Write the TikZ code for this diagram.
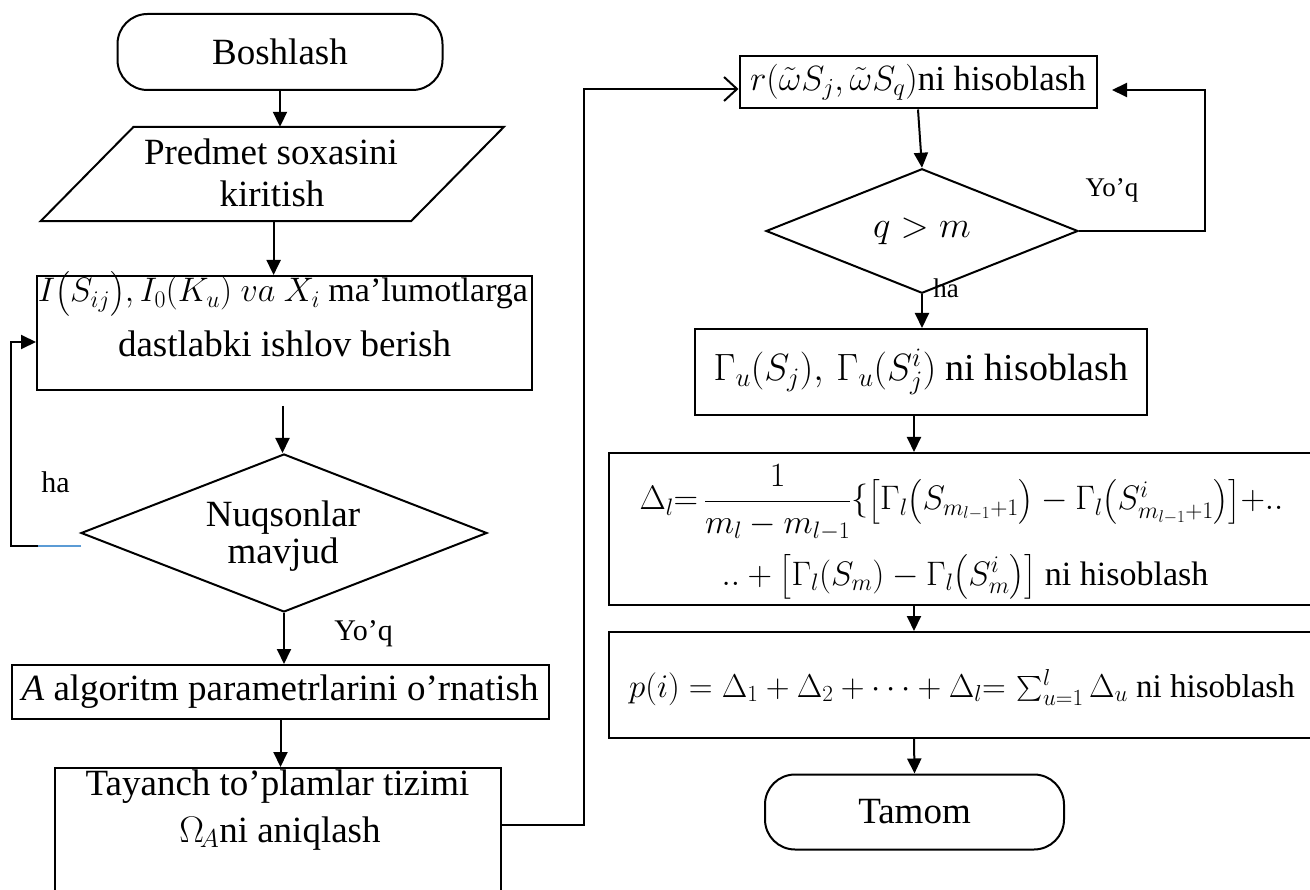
\RequirePackage{fix-cm}
\documentclass[tikz,border=0pt]{standalone}
\usepackage{amsmath}
\usepackage{fontspec}
\setmainfont{Liberation Serif}
\usetikzlibrary{shapes.geometric,arrows.meta,calc}
\definecolor{wordblue}{RGB}{91,155,213}
\tikzset{
  base/.style={draw, line width=2pt, inner sep=0pt, font=\fontsize{37}{44}\selectfont},
  term/.style={base, rectangle, rounded corners=30pt},
  procbox/.style={base, rectangle},
  txt/.style={inner sep=0pt, anchor=base, font=\fontsize{37}{44}\selectfont},
  fs/.style={font=\fontsize{#1}{44}\selectfont},
  lbl/.style={inner sep=0pt, anchor=base, font=\fontsize{30}{36}\selectfont},
  lbls/.style={inner sep=0pt, anchor=base, font=\fontsize{27}{32}\selectfont},
  arr/.style={line width=2pt, -{Triangle[length=15pt,width=14pt]}},
  openarr/.style={line width=2pt, -{Straight Barb[length=13pt,width=24pt]}},
  link/.style={line width=2pt},
}
\begin{document}
\begin{tikzpicture}[x=1pt,y=-1pt]
\useasboundingbox (0,0) rectangle (1310,890);
\clip (0,0) rectangle (1310,890);

% ---------- left column ----------
\node[term, minimum width=325pt, minimum height=76pt] (start) at (280,52) {Boshlash};

\node[inner sep=0pt, minimum width=463pt, minimum height=94pt] (inp) at (272.3,174) {};
\draw[link] (inp.south west) -- ($(inp.north west)+(93,0)$) -- (inp.north east)
  -- ($(inp.south east)+(-93,0)$) -- cycle;
\node[txt] (inpA) at (271,165) {Predmet soxasini};
\node[txt] (inpB) at (272,207) {kiritish};

\node[procbox, minimum width=495pt, minimum height=114pt] (box1) at (284.5,333) {};
\node[txt, fs=34] (b1A) at (283,302) {$I\bigl(S_{ij}\bigr), I_0(K_u)\ va\ X_i$ ma’lumotlarga};
\node[txt] (b1B) at (284.5,357) {dastlabki ishlov berish};

\node[base, diamond, minimum width=406pt, minimum height=158pt] (dec1) at (284,533) {};
\node[txt] (d1A) at (283,526) {Nuqsonlar};
\node[txt] (d1B) at (283,563) {mavjud};

\node[procbox, minimum width=537pt, minimum height=54pt] (boxA) at (280,692) {\textit{A} algoritm parametrlarini o’rnatish};

\node[procbox, minimum width=446.6pt, minimum height=140pt] (taya) at (278,838) {};
\node[txt] (tyA) at (277.5,795) {Tayanch to’plamlar tizimi};
\node[txt] (tyB) at (280,842) {$\Omega_{\!A}$ni aniqlash};

% labels left
\node[lbl] (haL) at (55.5,493) {ha};
\node[lbl] (yoqL) at (363.6,640) {Yo’q};

% ---------- right column ----------
\node[procbox, minimum width=357pt, minimum height=52pt, fs=35] (rbox) at (918,82.5) {$r(\tilde{\omega} S_j, \tilde{\omega} S_q)$ni hisoblash};

\node[base, diamond, minimum width=312pt, minimum height=86pt] (dec2) at (922,231) {$q > m$};

\node[procbox, minimum width=452pt, minimum height=86pt, fs=38] (gbox) at (921,372) {$\Gamma_u(S_j),\, \Gamma_u(S^i_j)$ ni hisoblash};

\node[procbox, minimum width=721pt, minimum height=152pt] (dbox) at (969.5,529) {};
\node[txt, fs=34] (dA) at (961.5,510) {$\Delta_l {=}\, \dfrac{1}{m_l - m_{l-1}}\{\bigl[\Gamma_l\bigl(S_{m_{l-1}+1}\bigr) - \Gamma_l\bigl(S^i_{m_{l-1}+1}\bigr)\bigr]{+}..$};
\node[txt, fs=34] (dB) at (965,585) {$..+\bigl[\Gamma_l(S_m) - \Gamma_l\bigl(S^i_m\bigr)\bigr]$ ni hisoblash};

\node[procbox, minimum width=721pt, minimum height=106pt] (pbox) at (969.5,685) {};
\node[txt, fs=33] (pA) at (962,697) {$p(i) = \Delta_1 + \Delta_2 + \cdots + \Delta_l {=}\, \textstyle\sum_{u=1}^{l} \Delta_u$ ni hisoblash};

\node[term, minimum width=299pt, minimum height=75pt] (tamom) at (914.5,812) {Tamom};

\node[lbls] (yoqR) at (1112,197) {Yo’q};
\node[lbls] (haR) at (946,298) {ha};

% ---------- connectors ----------
\draw[arr] (start.south) -- (start.south |- inp.north);
\draw[arr] (inp.south -| 273.6,0) -- (box1.north -| 273.6,0);
\coordinate (b1gap) at ($(box1.south)+(-2,15)$);
\draw[arr] (b1gap) -- (b1gap |- dec1.north);

% feedback "ha"
\coordinate (fbA) at (81,546);
\coordinate (fbB) at (38,546);
\coordinate (fbC) at (11,546);
\draw[wordblue, line width=1.4pt] (fbA) -- (fbB);
\draw[arr] (fbB) -- (fbC) -- (fbC |- 0,342) -- (box1.west |- 0,342);

\draw[arr] (dec1.south) -- (dec1.south |- boxA.north);
\draw[arr] (boxA.south -| 280.5,0) -- (taya.north -| 280.5,0);

% to right column
\coordinate (tyOut) at (taya.east |- 0,825);
\coordinate (upX) at (583.6,825);
\coordinate (topX) at (583.6,89);
\draw[openarr] (tyOut) -- (upX) -- (topX) -- (rbox.west |- 0,89);

\draw[arr] (rbox.south) -- (dec2.north);
\coordinate (loopR) at (1205,231);
\coordinate (loopT) at (1205,90);
\coordinate (loopTip) at (1112,90);
\draw[arr] (dec2.east) -- (loopR) -- (loopT) -- (loopTip);

\draw[arr] (dec2.south) -- (dec2.south |- gbox.north);
\draw[arr] (gbox.south -| 914,0) -- (dbox.north -| 914,0);
\draw[arr] (dbox.south -| 914,0) -- (pbox.north -| 914,0);
\draw[arr] (pbox.south -| 914,0) -- (tamom.north);
\end{tikzpicture}
\end{document}
